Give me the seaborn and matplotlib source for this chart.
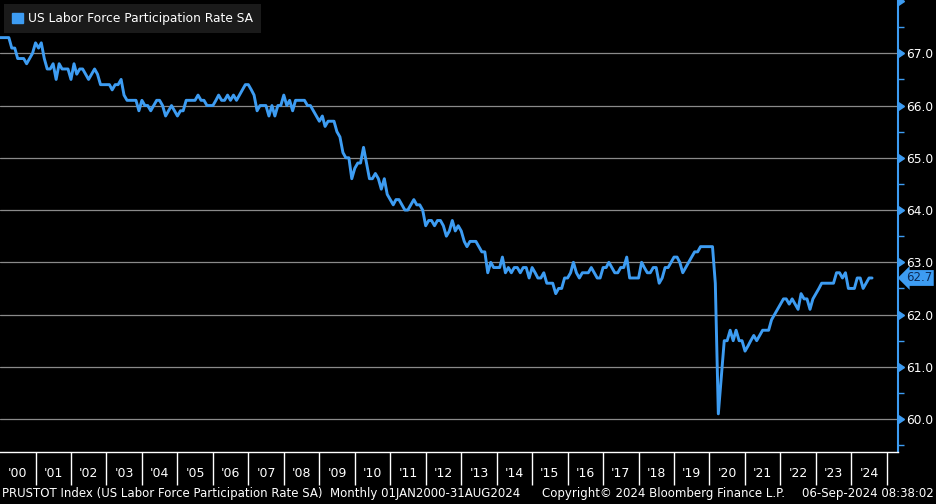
import pandas as pd
import matplotlib
matplotlib.use('Agg')
import matplotlib.pyplot as plt
import matplotlib.transforms as mtransforms
from matplotlib.patches import Patch
import seaborn as sns

# monthly values, Jan..Dec per year
y2000 = [67.3, 67.3, 67.3, 67.3, 67.1, 67.1, 66.9, 66.9, 66.9, 66.8, 66.9, 67.0]
y2001 = [67.2, 67.1, 67.2, 66.9, 66.7, 66.7, 66.8, 66.5, 66.8, 66.7, 66.7, 66.7]
y2002 = [66.5, 66.8, 66.6, 66.7, 66.7, 66.6, 66.5, 66.6, 66.7, 66.6, 66.4, 66.4]
y2003 = [66.4, 66.4, 66.3, 66.4, 66.4, 66.5, 66.2, 66.1, 66.1, 66.1, 66.1, 65.9]
y2004 = [66.1, 66.0, 66.0, 65.9, 66.0, 66.1, 66.1, 66.0, 65.8, 65.9, 66.0, 65.9]
y2005 = [65.8, 65.9, 65.9, 66.1, 66.1, 66.1, 66.1, 66.2, 66.1, 66.1, 66.0, 66.0]
y2006 = [66.0, 66.1, 66.2, 66.1, 66.1, 66.2, 66.1, 66.2, 66.1, 66.2, 66.3, 66.4]
y2007 = [66.4, 66.3, 66.2, 65.9, 66.0, 66.0, 66.0, 65.8, 66.0, 65.8, 66.0, 66.0]
y2008 = [66.2, 66.0, 66.1, 65.9, 66.1, 66.1, 66.1, 66.1, 66.0, 66.0, 65.9, 65.8]
y2009 = [65.7, 65.8, 65.6, 65.7, 65.7, 65.7, 65.5, 65.4, 65.1, 65.0, 65.0, 64.6]
y2010 = [64.8, 64.9, 64.9, 65.2, 64.9, 64.6, 64.6, 64.7, 64.6, 64.4, 64.6, 64.3]
y2011 = [64.2, 64.1, 64.2, 64.2, 64.1, 64.0, 64.0, 64.1, 64.2, 64.1, 64.1, 64.0]
y2012 = [63.7, 63.8, 63.8, 63.7, 63.8, 63.8, 63.7, 63.5, 63.6, 63.8, 63.6, 63.7]
y2013 = [63.6, 63.4, 63.3, 63.4, 63.4, 63.4, 63.3, 63.2, 63.2, 62.8, 63.0, 62.9]
y2014 = [62.9, 62.9, 63.1, 62.8, 62.9, 62.8, 62.9, 62.9, 62.8, 62.9, 62.9, 62.7]
y2015 = [62.9, 62.8, 62.7, 62.7, 62.8, 62.6, 62.6, 62.6, 62.4, 62.5, 62.5, 62.7]
y2016 = [62.7, 62.8, 63.0, 62.8, 62.7, 62.8, 62.8, 62.8, 62.9, 62.8, 62.7, 62.7]
y2017 = [62.9, 62.9, 63.0, 62.9, 62.8, 62.8, 62.9, 62.9, 63.1, 62.7, 62.7, 62.7]
y2018 = [62.7, 63.0, 62.9, 62.8, 62.8, 62.9, 62.9, 62.6, 62.7, 62.9, 62.9, 63.0]
y2019 = [63.1, 63.1, 63.0, 62.8, 62.9, 63.0, 63.1, 63.2, 63.2, 63.3, 63.3, 63.3]
y2020 = [63.3, 63.3, 62.6, 60.1, 60.8, 61.5, 61.5, 61.7, 61.5, 61.7, 61.5, 61.5]
y2021 = [61.3, 61.4, 61.5, 61.6, 61.5, 61.6, 61.7, 61.7, 61.7, 61.9, 62.0, 62.1]
y2022 = [62.2, 62.3, 62.3, 62.2, 62.3, 62.2, 62.1, 62.4, 62.3, 62.3, 62.1, 62.3]
y2023 = [62.4, 62.5, 62.6, 62.6, 62.6, 62.6, 62.6, 62.8, 62.8, 62.7, 62.8, 62.5]
y2024 = [62.5, 62.5, 62.7, 62.7, 62.5, 62.6, 62.7, 62.7]

values = (y2000 + y2001 + y2002 + y2003 + y2004 + y2005 + y2006 + y2007 + y2008
          + y2009 + y2010 + y2011 + y2012 + y2013 + y2014 + y2015 + y2016
          + y2017 + y2018 + y2019 + y2020 + y2021 + y2022 + y2023 + y2024)
dates = pd.date_range('2000-01-01', periods=len(values), freq='MS')
df = pd.DataFrame({'DATE': dates, 'VALUE': values})

years = list(range(2000, 2025))
year_labels = ["'%02d" % (y % 100) for y in years]
y_ticks = [60, 61, 62, 63, 64, 65, 66, 67]

series_name = 'US Labor Force Participation Rate SA'
footer_left = 'PRUSTOT Index (US Labor Force Participation Rate SA)  Monthly 01JAN2000-31AUG2024'
footer_mid = 'Copyright\u00a9 2024 Bloomberg Finance L.P.'
footer_right = '06-Sep-2024 08:38:02'

blue = '#3d9cf2'
sns.set_style('dark')
plt.rcParams['font.family'] = ['DejaVu Sans']

fig = plt.figure(figsize=(9.36, 5.04), dpi=100, facecolor='black')
ax = fig.add_axes([0.0, 0.1032, 0.9594, 0.8968])
ax.set_facecolor('black')

sns.lineplot(x='DATE', y='VALUE', data=df, ax=ax, color=blue, linewidth=2.1)

ax.set_xlim(pd.Timestamp('2000-01-01'), pd.Timestamp('2025-04-25'))
ax.set_ylim(59.37, 68.02)
ax.set_xlabel('')
ax.set_ylabel('')

# y axis on the right
ax.yaxis.tick_right()
ax.set_yticks(y_ticks, labels=['%.1f' % v for v in y_ticks])
ax.set_yticks([v + 0.5 for v in [59] + y_ticks], minor=True)
ax.tick_params(axis='y', which='major', length=0, pad=6, labelcolor='white',
               labelsize=8.8, right=True, left=False)
ax.tick_params(axis='y', which='minor', length=4, width=1, color=blue,
               right=True, left=False)
ax.yaxis.grid(True, which='major', color='#8a8a8a', linewidth=0.9)
ax.xaxis.grid(False)

# triangle markers on the right axis
trans = mtransforms.blended_transform_factory(ax.transAxes, ax.transData)
for v in y_ticks + [68]:
    ax.plot([1.0], [v], marker=9, markersize=6, color=blue, transform=trans,
            clip_on=False)

# x axis: year separators + labels in the middle of each year
ax.set_xticks([pd.Timestamp(f'{y}-01-01') for y in years[1:] + [2025]], labels=[''] * 25)
ax.set_xticks([pd.Timestamp(f'{y}-07-02') for y in years], labels=year_labels, minor=True)
ax.tick_params(axis='x', which='major', length=24, width=1, color='white',
               direction='out', bottom=True)
ax.tick_params(axis='x', which='minor', length=0, pad=11, labelcolor='white',
               labelsize=9, bottom=True)

for side in ['left', 'top']:
    ax.spines[side].set_visible(False)
ax.spines['bottom'].set_color('white')
ax.spines['bottom'].set_linewidth(1)
ax.spines['right'].set_color(blue)
ax.spines['right'].set_linewidth(1.5)

# last value tag
last = df['VALUE'].iloc[-1]
ax.text(1.009, last, f'{last:.1f}', transform=trans, ha='left', va='center',
        color='#0d2a55', fontsize=8.5,
        bbox=dict(boxstyle='larrow,pad=0.12', fc=blue, ec='none'))

# legend
leg = ax.legend(handles=[Patch(color=blue, label=series_name)], loc='upper left',
                bbox_to_anchor=(0.0, 1.0), frameon=True, facecolor='#1a1a1a',
                edgecolor='none', framealpha=1, fancybox=False, fontsize=8.8,
                handlelength=0.9, handleheight=0.9, handletextpad=0.4,
                borderpad=0.65, borderaxespad=0.35)
for t in leg.get_texts():
    t.set_color('white')

fig.text(2 / 936, 0.02, footer_left, color='white', fontsize=8.5, ha='left', va='center')
fig.text(542 / 936, 0.02, footer_mid, color='white', fontsize=8.5, ha='left', va='center')
fig.text(934 / 936, 0.02, footer_right, color='white', fontsize=8.5, ha='right', va='center')

fig.savefig('out.png', dpi=100, facecolor='black')
